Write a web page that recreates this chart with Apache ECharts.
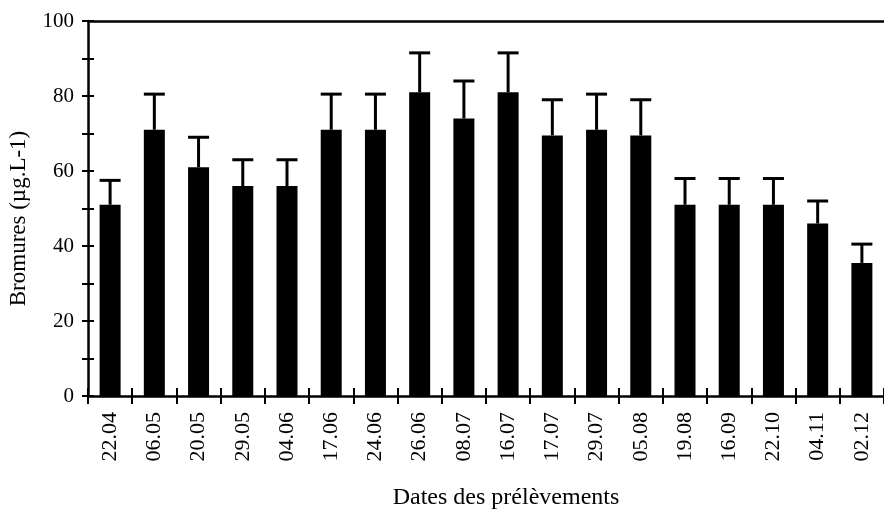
<!DOCTYPE html>
<html>
<head>
<meta charset="utf-8">
<script src="https://cdn.jsdelivr.net/npm/echarts@6/dist/echarts.min.js"></script>
<style>
  html, body { margin: 0; padding: 0; background: #fff; }
  #chart { width: 884px; height: 509px; }
</style>
</head>
<body>
<div id="chart"></div>
<script>
// dates des prélèvements
const dates = ['22.04', '06.05', '20.05', '29.05', '04.06', '17.06', '24.06', '26.06', '08.07',
  '16.07', '17.07', '29.07', '05.08', '19.08', '16.09', '22.10', '04.11', '02.12']
// bromures moyens (µg.L-1)
const means = [51, 71, 61, 56, 56, 71, 71, 81, 74, 81, 69.5, 71, 69.5, 51, 51, 51, 46, 35.5]
// écart-type (barre supérieure)
const errors = [6.5, 9.5, 8, 7, 7, 9.5, 9.5, 10.5, 10, 10.5, 9.5, 9.5, 9.5, 7, 7, 7, 6, 5]

const font = 'Liberation Serif'
const barWidth = 21

const errData = dates.map((d, i) => [i, means[i], means[i] + errors[i]])

const baseY = {
  type: 'value',
  min: 0,
  max: 100,
  interval: 10,
  splitLine: { show: false },
  axisLine: { show: true, lineStyle: { color: '#000', width: 2.5 } },
}
const baseX = {
  type: 'category',
  data: dates,
  splitLine: { show: false },
  axisLine: { show: true, lineStyle: { color: '#000', width: 2.5 } },
}

const option = {
  animation: false,
  textStyle: { fontFamily: font },
  grid: { left: 88, right: 0, top: 21, bottom: 113, containLabel: false, outerBoundsMode: 'none' },
  xAxis: [
    {
      ...baseX,
      position: 'bottom',
      name: 'Dates des prélèvements',
      nameLocation: 'middle',
      nameGap: 90,
      nameTextStyle: { fontFamily: font, fontSize: 24, color: '#000', padding: [0, 0, 0, 40] },
      axisTick: { show: true, length: 8, lineStyle: { color: '#000', width: 2 } },
      axisLabel: { rotate: 90, margin: 16, fontFamily: font, fontSize: 22, color: '#000' },
    },
    {
      ...baseX,
      position: 'bottom',
      axisLine: { show: false },
      axisTick: { show: true, inside: true, length: 8, lineStyle: { color: '#000', width: 2 } },
      axisLabel: { show: false },
    },
    {
      ...baseX,
      position: 'top',
      axisTick: { show: false },
      axisLabel: { show: false },
    },
  ],
  yAxis: [
    {
      ...baseY,
      name: 'Bromures (µg.L-1)',
      nameLocation: 'middle',
      nameGap: 58,
      nameTextStyle: { fontFamily: font, fontSize: 23, color: '#000', padding: [0, 20, 0, 0] },
      axisTick: { show: true, length: 6, lineStyle: { color: '#000', width: 2 } },
      axisLabel: {
        margin: 14,
        fontFamily: font,
        fontSize: 21,
        color: '#000',
        formatter: v => (v % 20 === 0 ? String(v) : ''),
      },
    },
    {
      ...baseY,
      position: 'left',
      axisLine: { show: false },
      axisTick: { show: true, inside: true, length: 6, lineStyle: { color: '#000', width: 2 } },
      axisLabel: { show: false },
    },
  ],
  series: [
    {
      type: 'bar',
      data: means,
      barWidth: barWidth,
      itemStyle: { color: '#000' },
      z: 3,
    },
    {
      type: 'custom',
      data: errData,
      z: 4,
      renderItem(params, api) {
        const bottom = api.coord([api.value(0), api.value(1)])
        const top = api.coord([api.value(0), api.value(2)])
        const half = barWidth / 2
        const style = { stroke: '#000', lineWidth: 3 }
        return {
          type: 'group',
          children: [
            { type: 'line', shape: { x1: bottom[0], y1: bottom[1], x2: top[0], y2: top[1] }, style },
            { type: 'line', shape: { x1: top[0] - half, y1: top[1], x2: top[0] + half, y2: top[1] }, style },
          ],
        }
      },
    },
  ],
}

const chart = echarts.init(document.getElementById('chart'))
chart.setOption(option)
</script>
</body>
</html>
